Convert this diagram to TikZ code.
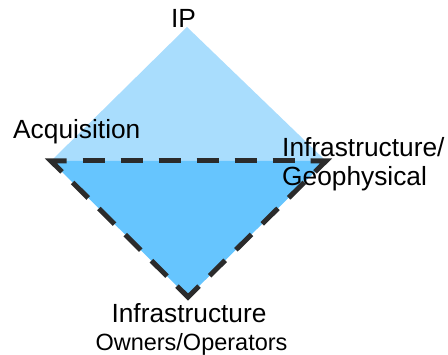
\documentclass[tikz,border=0pt]{standalone}
\usepackage{fontspec}
\setmainfont{Liberation Sans}
\usetikzlibrary{calc}
\definecolor{lightfill}{HTML}{A9DDFD}
\definecolor{darkfill}{HTML}{66C5FE}
\definecolor{edgecol}{HTML}{2B2B2B}
\begin{document}
\begin{tikzpicture}[x=1pt,y=-1pt,
  lbl/.style={inner sep=0pt, font=\fontsize{26.3}{29}\selectfont},
  edgeline/.style={draw=edgecol, line width=5pt},
  cornerpiece/.style={edgeline, line join=miter, line cap=butt},
  dashpiece/.style={edgeline, line cap=butt, dash pattern=on 22pt off #1, dash phase=22pt}]
\useasboundingbox (0,0) rectangle (448,355);
\coordinate (T) at (187,27);
\coordinate (L) at (51,161);
\coordinate (R) at (326,161);
\coordinate (B) at (188,297);
\fill[lightfill] (L) -- (T) -- (R) -- cycle;
\fill[darkfill] (L) -- (R) -- (B) -- cycle;
% dashed middle parts of the lower triangle's sides
\draw[dashpiece=16pt] ($(L)!15.5pt!(R)$) -- ($(R)!15.5pt!(L)$);
\draw[dashpiece=15pt] ($(L)!15.5pt!(B)$) -- ($(B)!15.5pt!(L)$);
\draw[dashpiece=15pt] ($(R)!15.5pt!(B)$) -- ($(B)!15.5pt!(R)$);
% corner dashes
\draw[cornerpiece] ($(L)!15.5pt!(R)$) -- (L) -- ($(L)!15.5pt!(B)$);
\draw[cornerpiece] ($(R)!15.5pt!(L)$) -- (R) -- ($(R)!15.5pt!(B)$);
\draw[cornerpiece] ($(B)!15.5pt!(L)$) -- (B) -- ($(B)!15.5pt!(R)$);
% labels
\node[lbl, anchor=base] (ip) at (183.5,28) {IP};
\node[lbl, anchor=base west] (acq) at (13,139) {Acquisition};
\node[lbl, anchor=base west] (infra) at (282,157) {Infrastructure/};
\node[lbl, anchor=base west] (geo) at (282,186) {Geophysical};
\node[lbl, anchor=base] (own1) at (189,323) {Infrastructure};
\node[lbl, anchor=base, font=\fontsize{23.5}{26}\selectfont] (own2) at (191.5,351) {Owners/Operators};
\end{tikzpicture}
\end{document}
